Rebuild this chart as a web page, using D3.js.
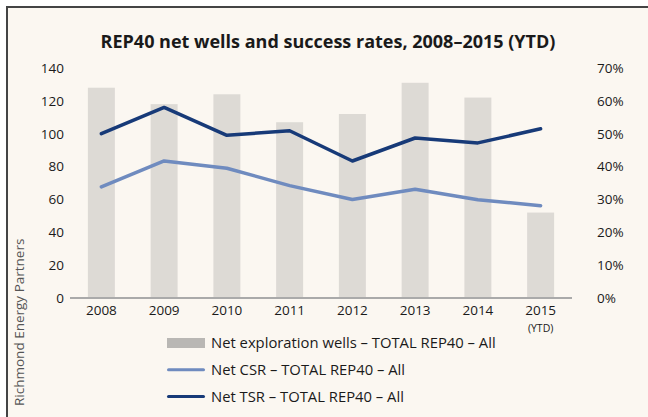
<!DOCTYPE html>
<html lang="en">
<head>
<meta charset="UTF-8">
<title>REP40 net wells and success rates</title>
<script src="https://d3js.org/d3.v7.min.js"></script>
<style>
  body { margin: 0; background: #fff; }
  svg text { font-family: "Open Sans", sans-serif; fill: #1a1a1a; }
</style>
</head>
<body>
<div id="chart"></div>
<script>
// data
var years = ["2008", "2009", "2010", "2011", "2012", "2013", "2014", "2015"];
var netWells = [128, 118, 124, 107, 112, 131, 122, 52];
var netCSR = [33.8, 41.7, 39.5, 34.2, 30.0, 33.1, 29.9, 28.1];
var netTSR = [50.0, 58.0, 49.5, 50.9, 41.7, 48.7, 47.2, 51.5];
var leftTicks = [0, 20, 40, 60, 80, 100, 120, 140];
var rightTicks = [0, 10, 20, 30, 40, 50, 60, 70];
var legendLabels = [
  "Net exploration wells \u2013 TOTAL REP40 \u2013 All",
  "Net CSR \u2013 TOTAL REP40 \u2013 All",
  "Net TSR \u2013 TOTAL REP40 \u2013 All"
];

var W = 648, H = 417;
var svg = d3.select("#chart").append("svg")
    .attr("width", W)
    .attr("height", H);

// frame
svg.append("rect")
    .attr("x", 7).attr("y", 7)
    .attr("width", W).attr("height", H)
    .attr("fill", "#fbf7f1")
    .attr("stroke", "#444")
    .attr("stroke-width", 2);

// scales
var x = d3.scaleBand().domain(years).range([70, 572]).paddingInner(0.57).paddingOuter(0.285);
var y = d3.scaleLinear().domain([0, 140]).range([298, 68]);
var y2 = d3.scaleLinear().domain([0, 70]).range([298, 68]);

// title
svg.append("text")
    .attr("x", 328).attr("y", 48)
    .attr("text-anchor", "middle")
    .style("font-size", "18px")
    .style("font-weight", "bold")
    .text("REP40 net wells and success rates, 2008\u20132015 (YTD)");

// bars
svg.selectAll(".bar")
    .data(netWells)
    .enter().append("rect")
    .attr("class", "bar")
    .attr("x", function (d, i) { return x(years[i]); })
    .attr("y", function (d) { return y(d); })
    .attr("width", x.bandwidth())
    .attr("height", function (d) { return y(0) - y(d); })
    .attr("fill", "#dddad5");

// baseline
svg.append("line")
    .attr("x1", 70).attr("x2", 572)
    .attr("y1", y(0)).attr("y2", y(0))
    .attr("stroke", "#aaa")
    .attr("stroke-width", 2);

// left axis
var leftAxis = svg.append("g")
    .attr("transform", "translate(64,0)")
    .call(d3.axisLeft(y).tickValues(leftTicks).tickSize(0).tickPadding(0));
leftAxis.select(".domain").remove();
leftAxis.selectAll("text").style("font-size", "13.5px").style("fill", "#1a1a1a");

// right axis
var rightAxis = svg.append("g")
    .attr("transform", "translate(597,0)")
    .call(d3.axisRight(y2).tickValues(rightTicks).tickSize(0).tickPadding(0)
      .tickFormat(function (d) { return d + "%"; }));
rightAxis.select(".domain").remove();
rightAxis.selectAll("text").style("font-size", "13.5px").style("fill", "#1a1a1a");

// x labels
var xAxis = svg.append("g")
    .attr("transform", "translate(0," + (y(0) + 7) + ")")
    .call(d3.axisBottom(x).tickSize(0).tickPadding(0));
xAxis.select(".domain").remove();
xAxis.selectAll("text").style("font-size", "13.5px").style("fill", "#1a1a1a");

svg.append("text")
    .attr("x", x("2015") + x.bandwidth() / 2)
    .attr("y", 332)
    .attr("text-anchor", "middle")
    .style("font-size", "10.5px")
    .text("(YTD)");

// lines
var line = d3.line()
    .x(function (d, i) { return x(years[i]) + x.bandwidth() / 2; })
    .y(function (d) { return y2(d); });

svg.append("path")
    .datum(netCSR)
    .attr("d", line)
    .attr("fill", "none")
    .attr("stroke", "#6f8bbf")
    .attr("stroke-width", 3.5)
    .attr("stroke-linecap", "round")
    .attr("stroke-linejoin", "round");

svg.append("path")
    .datum(netTSR)
    .attr("d", line)
    .attr("fill", "none")
    .attr("stroke", "#173a78")
    .attr("stroke-width", 3.5)
    .attr("stroke-linecap", "round")
    .attr("stroke-linejoin", "round");

// legend
var legend = svg.selectAll(".legend")
    .data(legendLabels)
    .enter().append("g")
    .attr("class", "legend")
    .attr("transform", function (d, i) { return "translate(167," + (343 + i * 26.7) + ")"; });

legend.append("rect")
    .attr("x", 0)
    .attr("y", function (d, i) { return i === 0 ? -5 : -1.5; })
    .attr("width", 38)
    .attr("height", function (d, i) { return i === 0 ? 10 : 3; })
    .attr("rx", function (d, i) { return i === 0 ? 0 : 1.5; })
    .attr("fill", function (d, i) { return ["#b9b7b4", "#6f8bbf", "#173a78"][i]; });

legend.append("text")
    .attr("x", 44)
    .attr("y", 0)
    .attr("dy", "0.35em")
    .style("font-size", "14.8px")
    .text(function (d) { return d; });

// source
svg.append("text")
    .attr("transform", "translate(24,406) rotate(-90)")
    .style("font-size", "13.5px")
    .style("fill", "#555")
    .text("Richmond Energy Partners");
</script>
</body>
</html>
